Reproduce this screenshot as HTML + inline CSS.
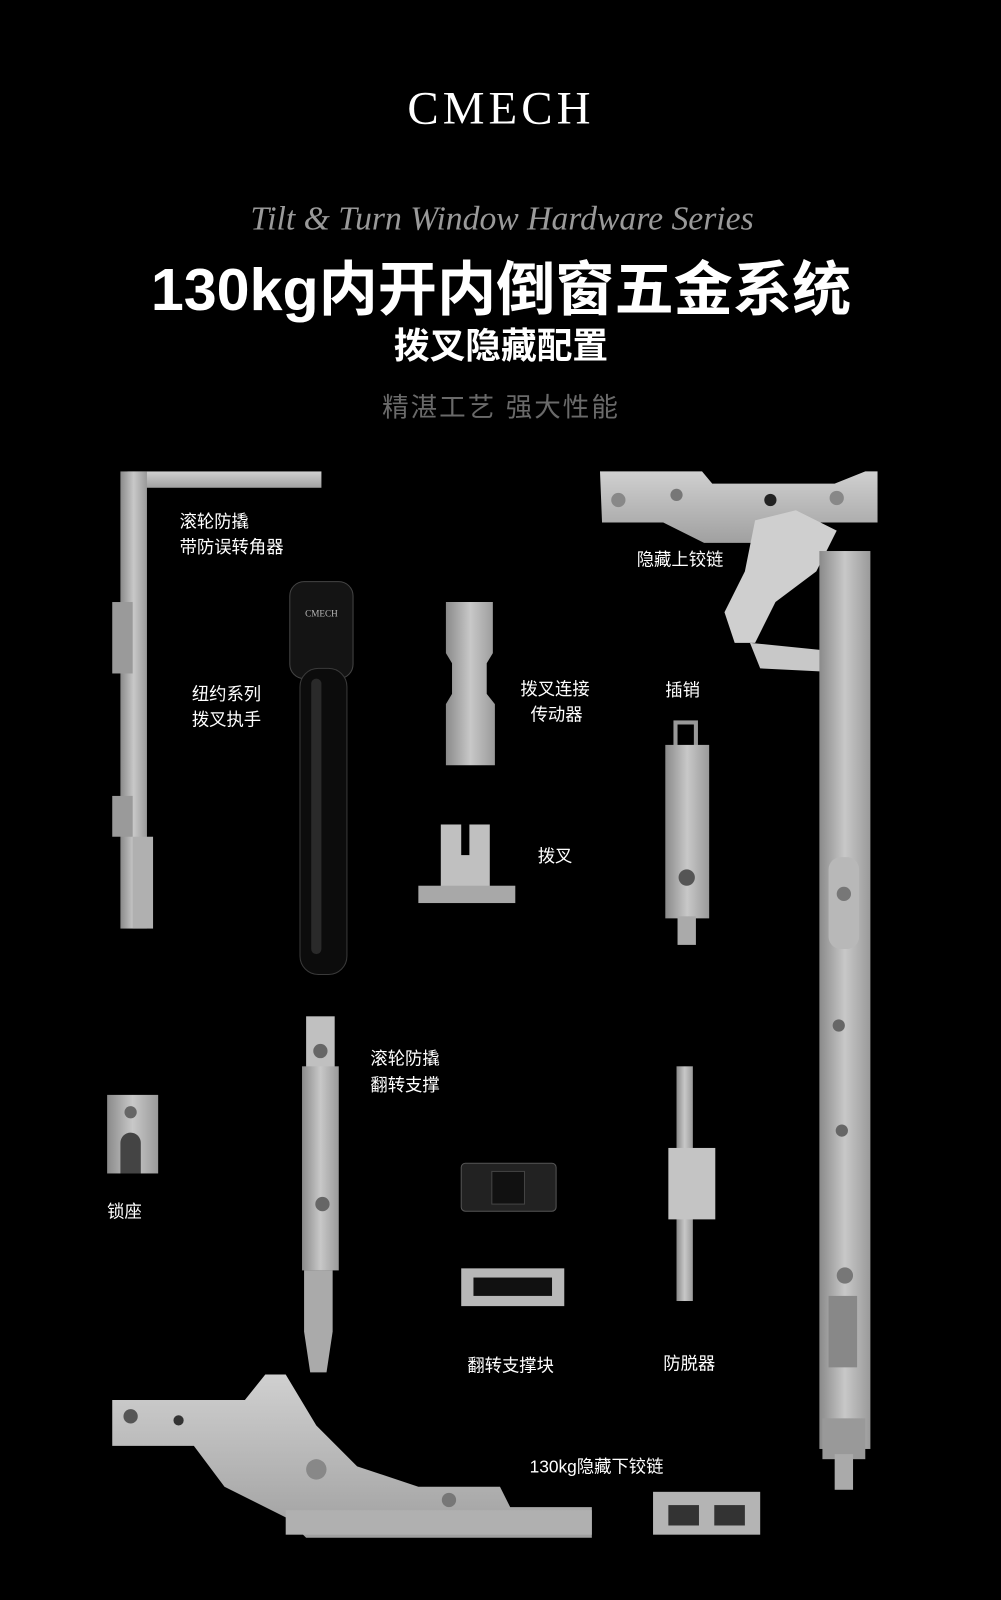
<!DOCTYPE html>
<html><head><meta charset="utf-8"><style>
html,body{margin:0;padding:0;background:#000;width:1001px;height:1600px;overflow:hidden}
svg{display:block}
.l{font-family:"Liberation Sans","Noto Sans CJK SC",sans-serif;fill:#fff;font-size:17px}
</style></head><body>
<svg width="1001" height="1600" viewBox="0 0 981 1568" xmlns="http://www.w3.org/2000/svg">
<defs>
<linearGradient id="m" x1="0" x2="1"><stop offset="0" stop-color="#8a8a8a"/><stop offset=".5" stop-color="#c8c8c8"/><stop offset="1" stop-color="#9a9a9a"/></linearGradient>
<linearGradient id="mv" x1="0" y1="0" x2="0" y2="1"><stop offset="0" stop-color="#d0d0d0"/><stop offset="1" stop-color="#a0a0a0"/></linearGradient>
</defs>
<rect width="981" height="1568" fill="#000"/>
<text x="491" y="121" text-anchor="middle" font-family="Liberation Serif,serif" font-size="46" fill="#fff" letter-spacing="4">CMECH</text>
<text x="492" y="225" text-anchor="middle" font-family="Liberation Serif,serif" font-style="italic" font-size="33" fill="#9a9a9a">Tilt &amp; Turn Window Hardware Series</text>
<text x="491" y="304" text-anchor="middle" font-family="Liberation Sans,Noto Sans CJK SC,sans-serif" font-weight="bold" font-size="58" fill="#fff">130kg内开内倒窗五金系统</text>
<text x="491" y="351" text-anchor="middle" font-family="Liberation Sans,Noto Sans CJK SC,sans-serif" font-weight="bold" font-size="35" fill="#fff">拨叉隐藏配置</text>
<text x="491" y="408" text-anchor="middle" font-family="Liberation Sans,Noto Sans CJK SC,sans-serif" font-size="26" fill="#6a6a6a" letter-spacing="2">精湛工艺 强大性能</text>

<rect x="125" y="462" width="190" height="16" fill="url(#mv)"/>
<rect x="118" y="462" width="26" height="448" fill="url(#m)"/>
<rect x="110" y="590" width="20" height="70" fill="#9a9a9a"/>
<rect x="110" y="780" width="20" height="40" fill="#9a9a9a"/>
<rect x="130" y="820" width="20" height="90" fill="#b0b0b0"/>
<rect x="284" y="570" width="62" height="95" rx="14" fill="#141414" stroke="#444"/>
<rect x="294" y="655" width="46" height="300" rx="18" fill="#0c0c0c" stroke="#3a3a3a"/>
<rect x="305" y="665" width="10" height="270" rx="5" fill="#2a2a2a"/>
<text x="315" y="604" text-anchor="middle" font-family="Liberation Serif,serif" font-size="9" fill="#bbb">CMECH</text>
<path d="M437 590 h46 v50 l-6 10 v30 l8 10 v60 h-48 v-60 l6 -10 v-30 l-6 -10z" fill="url(#m)"/>
<rect x="432" y="808" width="48" height="62" fill="#c0c0c0"/>
<rect x="452" y="808" width="8" height="30" fill="#000"/>
<rect x="410" y="868" width="95" height="17" fill="#a8a8a8"/>
<rect x="662" y="708" width="20" height="25" fill="none" stroke="#999" stroke-width="4"/>
<rect x="652" y="730" width="43" height="170" fill="url(#m)"/>
<circle cx="673" cy="860" r="8" fill="#555"/>
<rect x="664" y="898" width="18" height="28" fill="#aaa"/>
<path d="M588 462 h100 l10 12 h120 l30 -12 h12 v50 h-60 l-40 20 h-70 l-40 -20 h-60z" fill="url(#mv)"/>
<path d="M740 510 l40 -10 l40 20 l-20 40 l-40 30 l-20 40 h-20 l-10 -30 l20 -40z" fill="#cfcfcf"/>
<path d="M735 630 l100 10 l10 20 l-100 -5z" fill="#c8c8c8"/>
<circle cx="825" cy="565" r="20" fill="#ddd"/>
<circle cx="825" cy="565" r="9" fill="#888"/>
<circle cx="606" cy="490" r="7" fill="#888"/><circle cx="663" cy="485" r="6" fill="#777"/><circle cx="755" cy="490" r="6" fill="#222"/><circle cx="820" cy="488" r="7" fill="#888"/>
<rect x="803" y="540" width="50" height="880" fill="url(#m)"/>
<rect x="812" y="840" width="30" height="90" rx="12" fill="#b8b8b8"/>
<circle cx="827" cy="876" r="7" fill="#777"/><circle cx="822" cy="1005" r="6" fill="#666"/><circle cx="825" cy="1108" r="6" fill="#666"/><circle cx="828" cy="1250" r="8" fill="#777"/>
<rect x="812" y="1270" width="28" height="70" fill="#888"/>
<rect x="806" y="1390" width="42" height="40" fill="#999"/>
<rect x="818" y="1425" width="18" height="35" fill="#aaa"/>
<rect x="300" y="996" width="28" height="50" fill="#c0c0c0"/>
<rect x="296" y="1045" width="36" height="200" fill="url(#m)"/>
<circle cx="314" cy="1030" r="7" fill="#666"/><circle cx="316" cy="1180" r="7" fill="#666"/>
<path d="M298 1245 h28 v60 l-6 40 h-16 l-6 -40z" fill="#aaa"/>
<rect x="105" y="1073" width="50" height="77" fill="url(#m)"/>
<path d="M118 1150 v-30 a10 10 0 0 1 20 0 v30z" fill="#444"/>
<circle cx="128" cy="1090" r="6" fill="#666"/>
<rect x="452" y="1140" width="93" height="47" rx="4" fill="#222" stroke="#555"/>
<rect x="482" y="1148" width="32" height="32" fill="#111" stroke="#444"/>
<rect x="452" y="1243" width="101" height="37" fill="#b8b8b8"/>
<rect x="464" y="1252" width="77" height="18" fill="#111"/>
<rect x="663" y="1045" width="16" height="230" fill="url(#m)"/>
<rect x="655" y="1125" width="46" height="70" fill="#c4c4c4"/>
<path d="M110 1372 h130 l20 -25 h20 l30 50 l40 40 l60 20 h80 l10 20 h80 v30 h-280 l-20 -20 l-60 -30 l-30 -40 h-80z" fill="url(#mv)"/>
<circle cx="128" cy="1388" r="7" fill="#555"/><circle cx="175" cy="1392" r="5" fill="#333"/><circle cx="310" cy="1440" r="10" fill="#888"/><circle cx="440" cy="1470" r="7" fill="#777"/>
<rect x="280" y="1480" width="300" height="24" fill="#b0b0b0"/>
<rect x="640" y="1462" width="105" height="42" fill="#b4b4b4"/>
<rect x="655" y="1475" width="30" height="20" fill="#333"/><rect x="700" y="1475" width="30" height="20" fill="#333"/>

<text class="l" x="176" y="517">滚轮防撬</text>
<text class="l" x="176" y="542">带防误转角器</text>
<text class="l" x="624" y="554">隐藏上铰链</text>
<text class="l" x="188" y="686">纽约系列</text>
<text class="l" x="188" y="711">拨叉执手</text>
<text class="l" x="510" y="681">拨叉连接</text>
<text class="l" x="520" y="706">传动器</text>
<text class="l" x="652" y="682">插销</text>
<text class="l" x="527" y="845">拨叉</text>
<text class="l" x="363" y="1043">滚轮防撬</text>
<text class="l" x="363" y="1069">翻转支撑</text>
<text class="l" x="105" y="1193">锁座</text>
<text class="l" x="458" y="1344">翻转支撑块</text>
<text class="l" x="650" y="1342">防脱器</text>
<text class="l" x="519" y="1443">130kg隐藏下铰链</text>
</svg>
</body></html>
